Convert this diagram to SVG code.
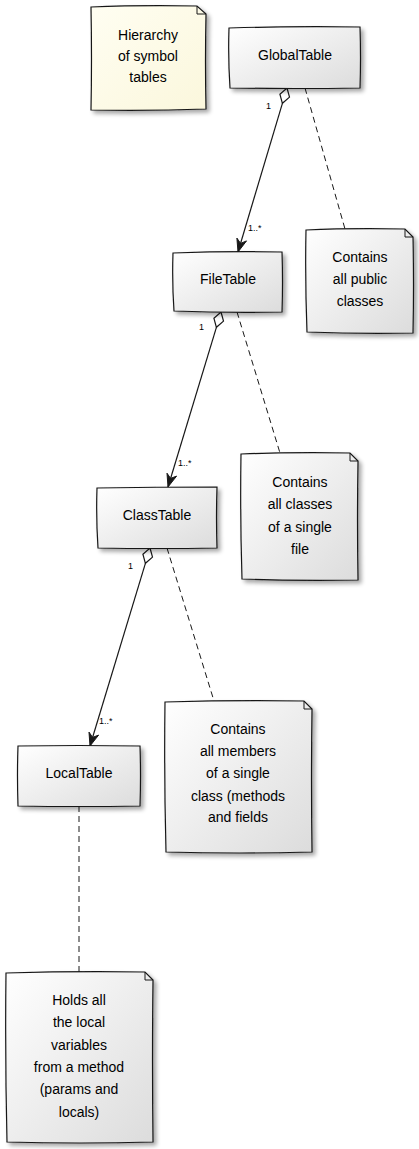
<svg xmlns="http://www.w3.org/2000/svg" width="419" height="1149" viewBox="0 0 419 1149">
<style>
.box{fill:url(#g);stroke:#181818;stroke-width:1.2;filter:url(#sh)}
.yel{fill:url(#y);stroke:#181818;stroke-width:1.2;filter:url(#sh)}
.fold{fill:none;stroke:#181818;stroke-width:1}
.t{font-family:"Liberation Sans",Arial,sans-serif;font-size:14px;text-anchor:middle;fill:#000}
.l{font-family:"Liberation Sans",Arial,sans-serif;font-size:9px;fill:#000}
.edge{fill:none;stroke:#181818;stroke-width:1.2}
.dash{fill:none;stroke:#181818;stroke-width:1;stroke-dasharray:6,4}
.dia{fill:#fff;stroke:#181818;stroke-width:1.2}
.arr{fill:#181818;stroke:#181818;stroke-width:1;stroke-linejoin:round}
</style>
<defs>
<linearGradient id="g" x1="0" y1="0" x2="1" y2="1">
<stop offset="0" stop-color="#FFFFFF"/>
<stop offset="1" stop-color="#DCDCDC"/>
</linearGradient>
<linearGradient id="y" x1="0" y1="0" x2="1" y2="1">
<stop offset="0" stop-color="#FFFEF2"/>
<stop offset="1" stop-color="#FBF7DC"/>
</linearGradient>
<filter id="sh" x="-10%" y="-10%" width="130%" height="130%">
<feGaussianBlur in="SourceAlpha" stdDeviation="2"/>
<feOffset dx="3" dy="3" result="b"/>
<feComponentTransfer><feFuncA type="linear" slope="0.35"/></feComponentTransfer>
<feMerge><feMergeNode/><feMergeNode in="SourceGraphic"/></feMerge>
</filter>
</defs>

<g id="connectors">
<path class="dia" d="M287,88 L289.5,97.1 L282.4,103.3 L279.9,94.2 Z"/>
<path class="edge" d="M282.4,103.3 L238,252"/>
<path class="arr" d="M238,252 L246.5,240.9 L240.6,243.4 L236.9,238.1 Z"/>
<text class="l" x="266" y="109">1</text>
<text class="l" x="248" y="231">1..*</text>
<path class="dash" d="M305,88 L345,229"/>

<path class="dia" d="M221,312 L223.5,321.1 L216.4,327.3 L213.9,318.2 Z"/>
<path class="edge" d="M216.4,327.3 L168,487"/>
<path class="arr" d="M168,487 L176.6,476.1 L170.6,478.4 L167,473.2 Z"/>
<text class="l" x="199" y="330">1</text>
<text class="l" x="178" y="466">1..*</text>
<path class="dash" d="M237,312 L280,453"/>

<path class="dia" d="M150,548 L152.5,557.1 L145.4,563.3 L142.9,554.2 Z"/>
<path class="edge" d="M145.4,563.3 L90,746"/>
<path class="arr" d="M90,746 L98.6,735.1 L92.6,737.4 L89,732.1 Z"/>
<text class="l" x="128" y="569">1</text>
<text class="l" x="99" y="724">1..*</text>
<path class="dash" d="M167,548 L214,701"/>

<path class="dash" d="M79,806 L79,972"/>
</g>

<g id="note-hierarchy">
<path class="yel" d="M91,7 Q140,5 197,6 L206,14 Q205,60 206,109 Q150,111 91,110 Q92,60 91,7 Z"/>
<path class="fold" d="M197,6 L197,14 L206,14"/>
<text class="t" x="148" y="40">Hierarchy</text>
<text class="t" x="148" y="61">of symbol</text>
<text class="t" x="148" y="82">tables</text>
</g>

<g id="GlobalTable">
<path class="box" d="M229,28 Q295,26 360,27 Q361,58 360,88 Q295,89 230,88 Q228,58 229,28 Z"/>
<text class="t" x="295" y="60">GlobalTable</text>
</g>

<g id="note-global">
<path class="box" d="M306,230 Q350,228 405,229 L413,237 Q414,285 413,333 Q360,334 307,332 Q305,280 306,230 Z"/>
<path class="fold" d="M405,229 L405,237 L413,237"/>
<text class="t" x="360" y="262">Contains</text>
<text class="t" x="360" y="284">all public</text>
<text class="t" x="360" y="306">classes</text>
</g>

<g id="FileTable">
<path class="box" d="M173,253 Q228,251 282,252 Q283,282 282,312 Q228,313 174,311 Q172,282 173,253 Z"/>
<text class="t" x="228" y="284">FileTable</text>
</g>

<g id="note-file">
<path class="box" d="M241,454 Q295,452 350,453 L358,461 Q357,520 358,580 Q300,581 242,579 Q240,515 241,454 Z"/>
<path class="fold" d="M350,453 L350,461 L358,461"/>
<text class="t" x="300" y="487">Contains</text>
<text class="t" x="300" y="509">all classes</text>
<text class="t" x="300" y="532">of a single</text>
<text class="t" x="300" y="554">file</text>
</g>

<g id="ClassTable">
<path class="box" d="M97,488 Q157,487 217,487 Q216,518 217,548 Q157,549 98,548 Q96,518 97,488 Z"/>
<text class="t" x="157" y="520">ClassTable</text>
</g>

<g id="note-class">
<path class="box" d="M165,702 Q235,700 304,701 L312,709 Q311,780 312,852 Q240,854 166,852 Q164,775 165,702 Z"/>
<path class="fold" d="M304,701 L304,709 L312,709"/>
<text class="t" x="238" y="734">Contains</text>
<text class="t" x="238" y="756">all members</text>
<text class="t" x="238" y="778">of a single</text>
<text class="t" x="238" y="801">class (methods</text>
<text class="t" x="238" y="822">and fields</text>
</g>

<g id="LocalTable">
<path class="box" d="M18,746 Q79,745 140,746 Q141,776 140,806 Q79,807 18,806 Q17,776 18,746 Z"/>
<text class="t" x="79" y="778">LocalTable</text>
</g>

<g id="note-local">
<path class="box" d="M6,973 Q75,971 145,972 L153,980 Q152,1060 153,1142 Q80,1144 7,1142 Q5,1058 6,973 Z"/>
<path class="fold" d="M145,972 L145,980 L153,980"/>
<text class="t" x="79" y="1005">Holds all</text>
<text class="t" x="79" y="1027">the local</text>
<text class="t" x="79" y="1050">variables</text>
<text class="t" x="79" y="1072">from a method</text>
<text class="t" x="79" y="1094">(params and</text>
<text class="t" x="79" y="1117">locals)</text>
</g>
</svg>
